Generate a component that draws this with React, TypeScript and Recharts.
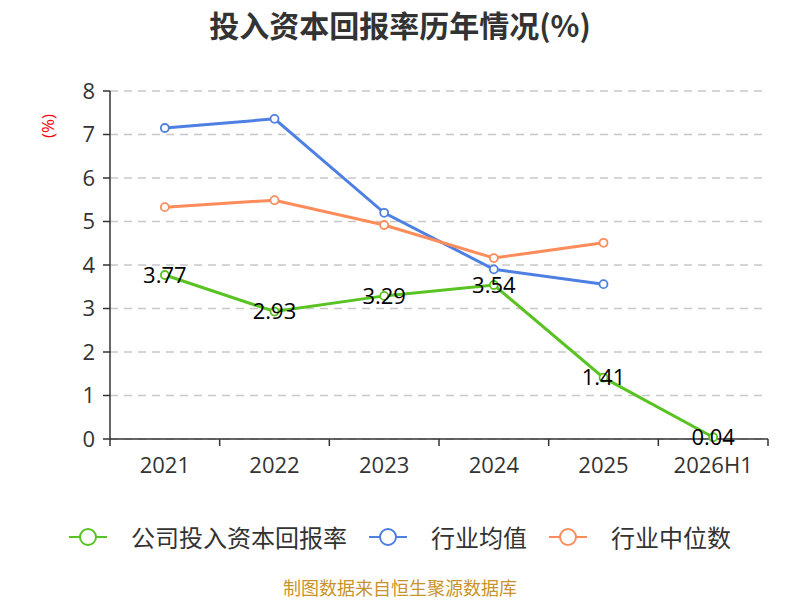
import React from "react";
import { LineChart, Line, XAxis, YAxis, CartesianGrid, LabelList } from "recharts";

const categories = ["2021", "2022", "2023", "2024", "2025", "2026H1"];
const companyValues = [3.77, 2.93, 3.29, 3.54, 1.41, 0.04];
const industryMean = [7.15, 7.36, 5.2, 3.9, 3.56, null];
const industryMedian = [5.33, 5.49, 4.92, 4.16, 4.51, null];
const yTicks = [0, 1, 2, 3, 4, 5, 6, 7, 8];

const seriesNames = ["公司投入资本回报率", "行业均值", "行业中位数"];
const seriesColors = ["#58c322", "#4e7fe3", "#fd8c5b"];

const data = categories.map((c, i) => ({
  name: c,
  company: companyValues[i],
  mean: industryMean[i],
  median: industryMedian[i],
}));

const FONT = "'Open Sans', 'Noto Sans CJK SC', sans-serif";

const XTick = (props: any) => {
  const { x, y, payload, index, visibleTicksCount } = props;
  const half = payload && typeof payload.offset === "number" && payload.offset > 0 ? payload.offset : 54.8;
  const axisY = y - 8;
  const isLast = index === (visibleTicksCount ?? categories.length) - 1;
  return (
    <g>
      <line x1={x - half} x2={x - half} y1={axisY} y2={axisY + 7} stroke="#333" strokeWidth={1.5} />
      {isLast && (
        <line x1={x + half} x2={x + half} y1={axisY} y2={axisY + 7} stroke="#333" strokeWidth={1.5} />
      )}
      <text x={x} y={axisY + 34} textAnchor="middle" fontSize={22} fill="#333" fontFamily={FONT}>
        {payload.value}
      </text>
    </g>
  );
};

const LegendIcon = ({ color }: { color: string }) => (
  <svg width={38} height={24} style={{ display: "block" }}>
    <line x1={0} y1={12} x2={11} y2={12} stroke={color} strokeWidth={2} />
    <line x1={27} y1={12} x2={38} y2={12} stroke={color} strokeWidth={2} />
    <circle cx={19} cy={12} r={8} fill="#fff" stroke={color} strokeWidth={2} />
  </svg>
);

export default function App() {
  return (
    <div style={{ position: "absolute", left: 0, top: 0, width: 800, height: 600, background: "#fff", fontFamily: FONT }}>
      <div
        style={{
          position: "absolute",
          left: 0,
          top: 2,
          width: 800,
          textAlign: "center",
          fontSize: 30,
          fontWeight: "bold",
          color: "#333",
          fontFamily: "'Noto Sans CJK SC', sans-serif",
        }}
      >
        投入资本回报率历年情况(%)
      </div>
      <div
        style={{
          position: "absolute",
          left: 34,
          top: 114,
          width: 28,
          height: 24,
          transform: "rotate(-90deg)",
          color: "#ff0000",
          fontSize: 17,
          lineHeight: "24px",
          textAlign: "center",
          whiteSpace: "nowrap",
        }}
      >
        (%)
      </div>
      <LineChart
        width={800}
        height={600}
        data={data}
        margin={{ top: 91, right: 32, bottom: 121, left: 0 }}
        style={{ position: "absolute", left: 0, top: 0 }}
      >
        <CartesianGrid vertical={false} stroke="#c8c8c8" strokeDasharray="8 6" strokeWidth={1.5} />
        <XAxis
          dataKey="name"
          scale="band"
          axisLine={{ stroke: "#333", strokeWidth: 1.5 }}
          tickLine={false}
          tick={<XTick />}
          interval={0}
          height={40}
        />
        <YAxis
          domain={[0, 8]}
          ticks={yTicks}
          width={110}
          axisLine={{ stroke: "#333", strokeWidth: 1.5 }}
          tickLine={{ stroke: "#333", strokeWidth: 1.5 }}
          tickSize={7}
          tick={{ fontSize: 22, fill: "#333", fontFamily: FONT }}
          tickMargin={8}
          interval={0}
        />
        <Line
          dataKey="mean"
          name={seriesNames[1]}
          stroke={seriesColors[1]}
          strokeWidth={3}
          dot={{ r: 4, fill: "#fff", stroke: seriesColors[1], strokeWidth: 1.8 }}
          isAnimationActive={false}
        />
        <Line
          dataKey="median"
          name={seriesNames[2]}
          stroke={seriesColors[2]}
          strokeWidth={3}
          dot={{ r: 4, fill: "#fff", stroke: seriesColors[2], strokeWidth: 1.8 }}
          isAnimationActive={false}
        />
        <Line
          dataKey="company"
          name={seriesNames[0]}
          stroke={seriesColors[0]}
          strokeWidth={3}
          dot={{ r: 4, fill: "#fff", stroke: seriesColors[0], strokeWidth: 1.8 }}
          isAnimationActive={false}
        >
          <LabelList dataKey="company" position="center" fontSize={22} fill="#000" fontFamily={FONT} />
        </Line>
      </LineChart>
      <div
        style={{
          position: "absolute",
          left: 0,
          top: 520,
          width: 800,
          display: "flex",
          justifyContent: "center",
          alignItems: "center",
          fontSize: 24,
          color: "#333",
          fontFamily: "'Noto Sans CJK SC', sans-serif",
          lineHeight: "34px",
        }}
      >
        {seriesNames.map((n, i) => (
          <div key={n} style={{ display: "flex", alignItems: "center", marginRight: i < 2 ? 22 : 0 }}>
            <LegendIcon color={seriesColors[i]} />
            <span style={{ marginLeft: 24 }}>{n}</span>
          </div>
        ))}
      </div>
      <div
        style={{
          position: "absolute",
          left: 0,
          top: 574,
          width: 800,
          textAlign: "center",
          fontSize: 18,
          color: "#c9932b",
          fontFamily: "'Noto Sans CJK SC', sans-serif",
        }}
      >
        制图数据来自恒生聚源数据库
      </div>
    </div>
  );
}
